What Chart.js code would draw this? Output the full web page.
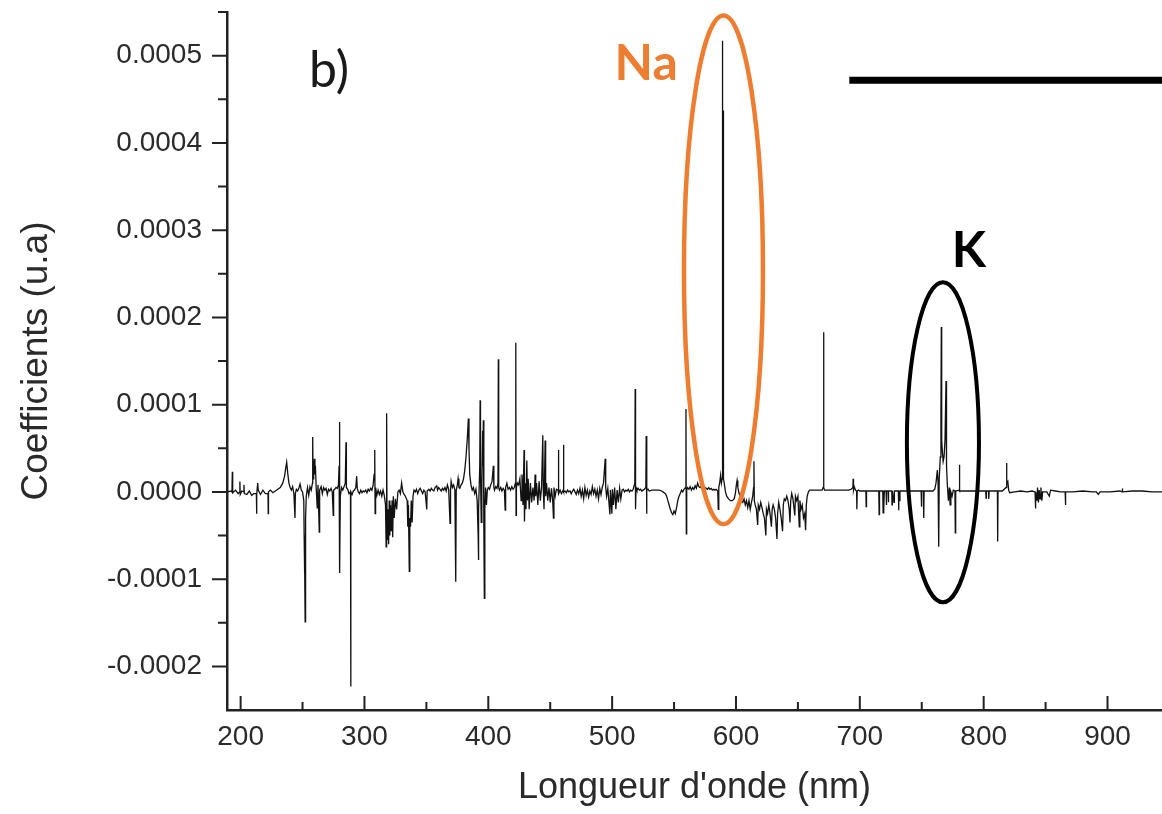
<!DOCTYPE html>
<html>
<head>
<meta charset="utf-8">
<script src="https://cdn.jsdelivr.net/npm/chart.js@4.4.1/dist/chart.umd.min.js"></script>
<style>
  html, body { margin: 0; padding: 0; background: #ffffff; }
  #wrap { width: 1162px; height: 814px; position: relative; }
</style>
</head>
<body>
<div id="wrap"><canvas id="chart"></canvas></div>
<script>
// ---- Data (wavelength nm, coefficient) ----
const spectrumUV = [
  [189.0,0],[192.5,0.01e-4],[193.0,0],[193.3,0.23e-4],[193.6,-0.01e-4],[196,0.02e-4],[198,-0.02e-4],
  [199.2,0],[199.4,0.12e-4],[199.7,-0.03e-4],[201,0.01e-4],[202.5,0],[202.7,0.08e-4],[203,-0.02e-4],
  [205,-0.03e-4],[207,0.01e-4],[209,-0.04e-4],[210.5,-0.02e-4],[212.7,-0.02e-4],[212.9,-0.25e-4],[213.1,-0.03e-4],
  [213.8,0.1e-4],[214.2,0.02e-4],[216,-0.03e-4],[218,0.02e-4],[220,-0.02e-4],[222.1,-0.02e-4],[222.3,-0.25e-4],[222.5,0],
  [224,0.02e-4],[226,-0.01e-4],[228,0.01e-4],[230,0.03e-4],[232,0.05e-4],[234,0.1e-4],[235.5,0.18e-4],[236.5,0.28e-4],
  [237.2,0.34e-4],[238,0.22e-4],[239,0.1e-4],[240,0.05e-4],[241,0.02e-4],[242,0.06e-4],[243,-0.02e-4],[243.9,-0.3e-4],
  [244.2,-0.02e-4],[245,0.03e-4],[246,0.01e-4],[247,0.04e-4],[248,0.09e-4],[249,0.02e-4],[250,0],
  [251.0,-0.1e-4],[251.3,-0.5e-4],[251.5,-0.93e-4],[251.7,-0.6e-4],[251.9,-0.85e-4],[252.1,-1.49e-4],[252.3,-0.7e-4],
  [252.6,-0.3e-4],[253,-0.05e-4],[254,0.05e-4],[255,-0.04e-4],[256,0.06e-4],[257,0.02e-4],
  [258.0,0.1e-4],[258.2,0.63e-4],[258.5,0.15e-4],[259,0.25e-4],[259.6,0.38e-4],[260,0.2e-4],[260.4,0.3e-4],[261,0.05e-4],
  [261.9,-0.19e-4],[262.5,0.08e-4],[263.5,-0.46e-4],[263.8,0.02e-4],[265,0.06e-4],[266,-0.02e-4],[267,0.05e-4],
  [268,0.02e-4],[269,0.04e-4],[270,-0.03e-4],[271,0.03e-4],[272,0.01e-4],[273,0.04e-4],[274,0],[274.8,-0.27e-4],
  [275.1,0.02e-4],[276,0.03e-4],[277,0.05e-4],[278,0.04e-4],[279,0.08e-4],[279.5,0.3e-4],[279.7,0.8e-4],[279.9,0.1e-4],
  [280.2,-0.93e-4],[280.5,-0.05e-4],[281.5,0.05e-4],[282.5,0.02e-4],[283.5,0.06e-4],[284.5,0.1e-4],[285.1,0.57e-4],
  [285.4,0.05e-4],[286.5,0.03e-4],[287.5,-0.02e-4],[288.7,0],[288.9,-2.23e-4],[289.1,0],[290,-0.03e-4],[291,0.01e-4],
  [292,0.02e-4],[293,0.05e-4],[293.7,0.18e-4],[294.2,0.04e-4],[295,0],[296,-0.02e-4],[297,0.02e-4],[298,-0.01e-4],
  [299,0.01e-4],[300,0]
];
const spectrumNearUV = [
  [301,0.02e-4],[302,-0.01e-4],[303,0.03e-4],[304,0.01e-4],[305,0.04e-4],[306,0.02e-4],[307,0.08e-4],[307.8,0.2e-4],
  [308.3,0.48e-4],[308.6,-0.25e-4],[309,0.05e-4],[310,-0.04e-4],[311,0.02e-4],[312,-0.03e-4],[313,0.01e-4],[314,-0.05e-4],
  [315,0.02e-4],[316,-0.04e-4],[317,-0.15e-4],[317.5,-0.63e-4],[317.8,-0.2e-4],[318.0,0.9e-4],[318.2,-0.4e-4],
  [318.6,-0.55e-4],[319,-0.2e-4],[319.5,-0.6e-4],[320,-0.1e-4],[320.5,-0.5e-4],[321,-0.15e-4],[321.7,-0.45e-4],
  [322.3,-0.1e-4],[322.8,-0.52e-4],[323.3,-0.05e-4],[324,-0.3e-4],[325,-0.08e-4],[326,-0.2e-4],[327,0],[328,0.02e-4],
  [329,-0.02e-4],[330,0.1e-4],[331,0],[332,-0.03e-4],[333,-0.05e-4],[334.5,-0.1e-4],[335,-0.4e-4],[335.5,-0.15e-4],
  [336.2,-0.91e-4],[336.6,-0.3e-4],[337.2,-0.4e-4],[337.8,-0.1e-4],[338.5,-0.35e-4],[339.2,-0.05e-4],[340,0.02e-4],
  [341,0],[342,0.03e-4],[343,-0.02e-4],[344,0.02e-4],[345,0.04e-4],[346,0.01e-4],[347,-0.02e-4],[348,0.02e-4],[349,0],
  [350.3,-0.2e-4],[350.6,0.01e-4],[352,0.03e-4],[353,0.01e-4],[354,0.04e-4],[355,0.02e-4],[356,0.01e-4],[357,0.05e-4],
  [358.4,0.07e-4],[359,0.02e-4],[360,0.05e-4],[361,0.03e-4],[362,0.01e-4],[363,0.04e-4],[364,0.02e-4],[365,0.05e-4],
  [366,0.01e-4],[367,0.08e-4],[368,0.03e-4],[369.1,-0.36e-4],[369.5,0.02e-4],[370,0.12e-4],[371,0.05e-4],[372,0.08e-4],
  [373,0.02e-4],[373.7,-1.03e-4],[374.1,0.02e-4],[375,0.08e-4],[375.6,0.15e-4],[376.3,0.05e-4],[377,0.04e-4],
  [378,0.08e-4],[379,0.1e-4],[380,0.15e-4],[381,0.25e-4],[382,0.4e-4],[383,0.6e-4],[383.9,0.84e-4],[384.4,0.5e-4],
  [385,0.2e-4],[386,0.08e-4],[387,0.02e-4],[388,0.05e-4],[389,-0.02e-4],[390,0.03e-4],[391,-0.1e-4],[391.8,-0.5e-4],
  [392,-0.78e-4],[392.3,-0.2e-4],[393.1,0.3e-4],[393.4,1.05e-4],[393.7,0.2e-4],[394.3,-0.35e-4],[394.8,0.1e-4],
  [395.4,0.7e-4],[395.7,0.3e-4],[396,0.82e-4],[396.4,-0.4e-4],[396.8,-1.22e-4],[397.2,-0.2e-4],[397.8,0.05e-4],
  [398.5,-0.15e-4],[399.2,0.02e-4],[400,0.05e-4]
];
const spectrumBlue = [
  [401,0.03e-4],[402,0.08e-4],[403,0.12e-4],[404.1,0.3e-4],[404.5,0.05e-4],[405,0.02e-4],[406,0.06e-4],[407,0.04e-4],
  [407.8,0.1e-4],[408.1,1.52e-4],[408.4,0.05e-4],[409,0.02e-4],[410,0.05e-4],[411,0.01e-4],[412,0.04e-4],[413,0.02e-4],
  [413.6,-0.21e-4],[414,0.05e-4],[415,0.1e-4],[416,0.03e-4],[417,0.05e-4],[418,0.02e-4],[419,0.06e-4],[420,0.03e-4],
  [421,0.05e-4],[421.9,0.1e-4],[422.2,1.71e-4],[422.4,-0.27e-4],[422.7,0.05e-4],[423.5,0.1e-4],[424.5,0.08e-4],
  [425.5,0.15e-4],[426.5,-0.1e-4],[427.2,0.2e-4],[428,-0.15e-4],[428.9,0.48e-4],[429.2,-0.34e-4],[429.8,0.1e-4],
  [430.4,-0.2e-4],[431.1,0.36e-4],[431.6,-0.1e-4],[432.2,0.15e-4],[433,-0.2e-4],[434,0.1e-4],[435,-0.12e-4],[436,0.05e-4],
  [437,-0.1e-4],[437.8,0.2e-4],[438.3,-0.05e-4],[439,0.1e-4],[440,-0.15e-4],[441,0.12e-4],[442,-0.1e-4],[443,0.05e-4],
  [444,0.65e-4],[444.4,0.02e-4],[445,-0.2e-4],[445.9,0.59e-4],[446.3,-0.05e-4],[447,0.1e-4],[448,-0.1e-4],[449,0.05e-4],
  [450,-0.12e-4],[451,0.04e-4],[452,-0.1e-4],[452.6,-0.3e-4],[453,0.05e-4],[454,-0.05e-4],[455,0.03e-4],[456.3,0.02e-4],
  [456.6,0.48e-4],[456.9,-0.02e-4],[458,0.02e-4],[459,-0.02e-4],[460.4,0.02e-4],[460.7,0.54e-4],[461,0],[462,0.01e-4],
  [463,-0.01e-4],[464,0.02e-4],[465,0],[466,0.01e-4],[467,-0.02e-4],[468,0.01e-4],[469,0.03e-4],[470,0],[471,-0.03e-4],
  [472,0.02e-4],[473,-0.02e-4],[474,0.04e-4],[475,-0.05e-4],[476,0.02e-4],[477,-0.08e-4],[478,0.05e-4],[479,-0.04e-4],
  [480,0.02e-4],[481,-0.06e-4],[482,0.01e-4],[483,-0.03e-4],[484,0.06e-4],[485,-0.02e-4],[486,0.03e-4],[487,-0.05e-4],
  [488,0.02e-4],[489,-0.08e-4],[490,0.04e-4],[491,-0.03e-4],[492,0.05e-4],[493,0.1e-4],[494.4,0.38e-4],[494.8,0.05e-4],
  [495.5,-0.05e-4],[496.5,0.04e-4],[497.3,-0.1e-4],[498.2,-0.26e-4],[498.6,0.02e-4],[499.8,-0.25e-4],[500.2,0.03e-4]
];
const spectrumRed = [
  [501,-0.15e-4],[502,0.05e-4],[503,-0.2e-4],[504,0.02e-4],[505,-0.12e-4],[506,0.04e-4],[507,-0.08e-4],[508,0.02e-4],
  [509,0.03e-4],[510,0],[511,0.02e-4],[512,0.01e-4],[513,0.03e-4],[514,0],[515,0.02e-4],[516,0.01e-4],[517,0.03e-4],
  [518.3,0.1e-4],[518.6,1.18e-4],[518.9,-0.2e-4],[519.3,0.05e-4],[520,0.02e-4],[521,0.04e-4],[522,0.02e-4],[523,0.03e-4],
  [524,0.01e-4],[525,0.02e-4],[526,0.03e-4],[527.2,0.05e-4],[527.5,0.64e-4],[527.8,-0.25e-4],[528.1,0.02e-4],
  [529,0.03e-4],[530,0.01e-4],[532,0.02e-4],[534,0.02e-4],[536,0.02e-4],[538,0.02e-4],[540,0.01e-4],[541,0],
  [542,-0.01e-4],[543,-0.02e-4],[544,-0.05e-4],[545,-0.1e-4],[546,-0.15e-4],[547,-0.2e-4],[548,-0.24e-4],[549,-0.26e-4],
  [550,-0.22e-4],[551,-0.25e-4],[552,-0.18e-4],[553,-0.1e-4],[554,-0.05e-4],[555,-0.02e-4],[556,0.02e-4],[557,0],
  [558,0.03e-4],[559.3,0.05e-4],[559.6,0.95e-4],[559.9,-0.48e-4],[560.2,0.02e-4],[561,0.05e-4],[562,0.03e-4],
  [563,0.06e-4],[564,0.02e-4],[565,0.05e-4],[566,0.03e-4],[567,0.07e-4],[568,0.04e-4],[569,0.1e-4],[570,0.06e-4],
  [571,0.05e-4],[572,0.07e-4],[573,0.04e-4],[574,0.06e-4],[575,0.05e-4],[576,0.04e-4],[577,0.03e-4],[578,0.05e-4],
  [579,0.03e-4],[580,0.04e-4],[581,0.02e-4],[582,0.03e-4],[583,0.02e-4],[584,0.03e-4],[585.3,0.01e-4],[585.7,-0.2e-4],
  [586.1,0.05e-4],[587,0.12e-4],[587.6,0.19e-4],[588.2,0.1e-4],[588.8,0.15e-4],[589.0,5.17e-4],[589.3,0.3e-4],
  [589.6,4.37e-4],[589.9,0.15e-4],[590.5,0.1e-4],[591.5,0],[592.5,-0.05e-4],[594,-0.08e-4],[595.5,-0.1e-4],
  [597,-0.1e-4],[598.5,-0.08e-4],[599.5,-0.02e-4],[600.3,0.08e-4],[600.9,0.13e-4],[601.5,0.05e-4],[602.5,-0.02e-4],
  [603.5,-0.05e-4],[604.5,-0.1e-4],[605.5,-0.12e-4],[606.5,-0.08e-4],[607.5,-0.15e-4],[608.5,-0.1e-4],[609.5,-0.18e-4],
  [610.5,-0.1e-4],[611.5,-0.2e-4],[612.5,-0.12e-4],[613.5,-0.05e-4],[614.2,0.05e-4],[614.5,0.35e-4],[614.8,-0.1e-4],
  [615.5,-0.15e-4],[616.5,-0.2e-4],[617.5,-0.38e-4],[618,-0.15e-4],[619,-0.2e-4],[620,-0.12e-4],[621,-0.18e-4],
  [622,-0.25e-4],[623,-0.3e-4],[624.1,-0.5e-4],[624.6,-0.2e-4],[625.5,-0.25e-4],[626.5,-0.15e-4],[627.5,-0.25e-4],
  [628.6,-0.4e-4],[629.2,-0.2e-4],[630,-0.15e-4],[631,-0.2e-4],[632,-0.3e-4],[633.1,-0.54e-4],[633.6,-0.25e-4],
  [634.5,-0.12e-4],[635.5,-0.2e-4],[636.5,-0.3e-4],[637.6,-0.45e-4],[638.2,-0.15e-4],[639,-0.08e-4],[640,-0.1e-4],
  [641,-0.05e-4],[642,-0.1e-4],[643,-0.2e-4],[643.6,-0.35e-4],[644.2,-0.1e-4],[645,-0.02e-4],[646,-0.08e-4],
  [647.5,-0.27e-4],[648,-0.05e-4],[649,-0.1e-4],[650,-0.05e-4],[651.1,-0.4e-4],[651.6,-0.1e-4],[652.5,-0.2e-4],
  [653.5,-0.15e-4],[654.5,-0.3e-4],[655.5,-0.25e-4],[656.2,-0.44e-4],[656.8,-0.15e-4],[657.5,-0.05e-4],[658.5,0],
  [659.5,0.02e-4],[661.5,0.02e-4],[663.5,0.02e-4],[665.5,0.02e-4],[667.5,0.02e-4],[669.5,0.02e-4],[670.4,0.05e-4],
  [670.7,1.83e-4],[671,0.05e-4],[671.5,0.02e-4],[675,0.02e-4],[679,0.02e-4],[683,0.02e-4],[687,0.02e-4],[691,0.02e-4],
  [693,0.03e-4],[694.4,0.05e-4],[694.6,0.15e-4],[694.9,0.02e-4],[695.5,0.06e-4],[696.5,0.02e-4],[697.4,0.01e-4],
  [697.6,-0.2e-4],[697.9,0.01e-4],[699,0.02e-4]
];
const spectrumNIR = [
  [700,0.01e-4],[702,0.01e-4],[704.9,0.01e-4],[705.1,-0.17e-4],[705.4,0.01e-4],[709,0.01e-4],[713,0.01e-4],
  [715.3,0.01e-4],[715.6,-0.26e-4],[715.9,0.01e-4],[718.5,0.01e-4],[718.8,-0.24e-4],[719.1,0.01e-4],[719.5,-0.2e-4],
  [719.8,0.01e-4],[721.2,0.01e-4],[721.4,-0.15e-4],[721.7,0.01e-4],[722.8,0.01e-4],[723,-0.12e-4],[723.3,0.01e-4],
  [725.8,0.01e-4],[726,-0.15e-4],[726.3,0.01e-4],[727.6,-0.12e-4],[727.9,0.01e-4],[731.1,0.01e-4],[731.3,-0.21e-4],
  [731.6,0.01e-4],[732.1,-0.1e-4],[732.4,0.01e-4],[736,0.01e-4],[740,0.01e-4],[744,0.01e-4],[749.5,0.01e-4],
  [749.7,-0.17e-4],[750,0.01e-4],[751.3,0.01e-4],[751.6,-0.3e-4],[751.9,0.01e-4],[755,0.01e-4],[759,0.01e-4],
  [760.5,0.03e-4],[761.5,0.1e-4],[762.6,0.25e-4],[763.2,0.1e-4],[763.7,-0.63e-4],[764.1,0.15e-4],[765,0.4e-4],
  [765.5,0.9e-4],[765.8,1.89e-4],[766.1,0.6e-4],[766.7,0.45e-4],[767.3,0.35e-4],[768,0.4e-4],[768.8,0.6e-4],
  [769.6,1.27e-4],[770,0.3e-4],[770.6,0.1e-4],[771.5,-0.1e-4],[772.3,0.05e-4],[772.9,-0.15e-4],[773.5,0],
  [774.5,-0.05e-4],[775.5,0.02e-4],[776.8,0.01e-4],[777.1,-0.47e-4],[777.4,0.01e-4],[780.1,0.02e-4],[780.4,0.31e-4],
  [780.7,0.01e-4],[786,0.01e-4],[792,0.01e-4],[798,0.01e-4],[801.7,0.01e-4],[801.9,-0.07e-4],[802.2,0.01e-4],
  [803.9,0.01e-4],[804.1,-0.08e-4],[804.4,0.01e-4],[808,0.01e-4],[811.1,0.01e-4],[811.3,-0.57e-4],[811.6,0.01e-4],
  [815,0.01e-4],[818.1,0.05e-4],[818.4,0.33e-4],[818.8,0.1e-4],[819.5,0.12e-4],[820.2,0.02e-4],[821,-0.01e-4],
  [825,0],[830,0.01e-4],[835,0],[839,0.01e-4],[841.5,0],[841.8,-0.19e-4],[842.1,0],[843,-0.1e-4],[843.5,0.05e-4],
  [844.2,-0.12e-4],[844.8,0.02e-4],[845.5,-0.08e-4],[846.2,0.05e-4],[847,-0.1e-4],[847.6,0],[851,0],[853,-0.05e-4],
  [854,0.02e-4],[858,0.01e-4],[862,0],[865.8,0],[866,-0.15e-4],[866.3,0],[872,0],[880,0.01e-4],[888,0],
  [891,0],[892.5,-0.03e-4],[894,0],[902,0],[910,0.01e-4],[911.8,0],[912,0.04e-4],[912.2,0],[920,0.01e-4],
  [928,0.01e-4],[936,0],[944,0]
];

// ---- Axis ticks ----
const xTickValues = [200, 300, 400, 500, 600, 700, 800, 900];
const xMinorTicks = [250, 350, 450, 550, 650, 750, 850];
const yTickValues = [-0.0002, -0.0001, 0, 0.0001, 0.0002, 0.0003, 0.0004, 0.0005];
const yMinorTicks = [-0.00015, -0.00005, 0.00005, 0.00015, 0.00025, 0.00035, 0.00045, 0.00055];

// ---- Annotations (in data coordinates) ----
const naEllipse = { x: 589.9, y: 2.545e-4, rx: 31.9, ry: 2.914e-4 };
const kEllipse  = { x: 767.1, y: 0.568e-4, rx: 29.1, ry: 1.834e-4 };
const labelNa = { text: 'Na', x: 527.5, y: 4.9e-4 };
const labelK  = { text: 'K', x: 788.0, y: 2.76e-4 };
const labelPanel = { text: 'b)', x: 271.4, y: 4.82e-4 };
const topBar = { xStart: 691.5, y: 4.717e-4 };

const points = [].concat(spectrumUV, spectrumNearUV, spectrumBlue, spectrumRed, spectrumNIR)
  .map(([x, y]) => ({ x, y }));

const axisTicks = {
  id: 'axisTicks',
  afterDraw(chart) {
    const { ctx, scales: { x, y }, chartArea } = chart;
    const ax = chartArea.left, ay = chartArea.bottom;
    ctx.save();
    ctx.strokeStyle = '#222';
    ctx.lineWidth = 2;
    ctx.beginPath();
    yTickValues.forEach(v => { const p = y.getPixelForValue(v); ctx.moveTo(ax - 15, p); ctx.lineTo(ax, p); });
    yMinorTicks.forEach(v => { const p = y.getPixelForValue(v); ctx.moveTo(ax - 9, p); ctx.lineTo(ax, p); });
    xTickValues.forEach(v => { const p = x.getPixelForValue(v); ctx.moveTo(p, ay); ctx.lineTo(p, ay - 14); });
    xMinorTicks.forEach(v => { const p = x.getPixelForValue(v); ctx.moveTo(p, ay); ctx.lineTo(p, ay - 8); });
    ctx.stroke();
    ctx.restore();
  }
};

const annotations = {
  id: 'annotations',
  afterDatasetsDraw(chart) {
    const { ctx, scales: { x, y } } = chart;
    ctx.save();
    const ellipse = (e, color, w) => {
      const cx = x.getPixelForValue(e.x), cy = y.getPixelForValue(e.y);
      const rx = Math.abs(x.getPixelForValue(e.x + e.rx) - cx);
      const ry = Math.abs(y.getPixelForValue(e.y - e.ry) - cy);
      ctx.beginPath();
      ctx.ellipse(cx, cy, rx, ry, 0, 0, Math.PI * 2);
      ctx.strokeStyle = color;
      ctx.lineWidth = w;
      ctx.stroke();
    };
    ellipse(naEllipse, '#ED7D31', 4.5);
    ellipse(kEllipse, '#000000', 4);

    const text = (t, font, color) => {
      ctx.font = font;
      ctx.fillStyle = color;
      ctx.textAlign = 'center';
      ctx.textBaseline = 'middle';
      ctx.fillText(t.text, x.getPixelForValue(t.x), y.getPixelForValue(t.y));
    };
    text(labelNa, 'bold 50px Lato', '#ED7D31');
    text(labelK, 'bold 50px Lato', '#000000');
    text(labelPanel, '50px Lato', '#1a1a1a');

    ctx.beginPath();
    ctx.strokeStyle = '#000';
    ctx.lineWidth = 7;
    const by = y.getPixelForValue(topBar.y);
    ctx.moveTo(x.getPixelForValue(topBar.xStart), by);
    ctx.lineTo(chart.width, by);
    ctx.stroke();
    ctx.restore();
  }
};

new Chart(document.getElementById('chart'), {
  type: 'line',
  data: {
    datasets: [{
      data: points,
      borderColor: '#111111',
      borderWidth: 1.3,
      pointRadius: 0,
      tension: 0,
      fill: false
    }]
  },
  plugins: [annotations, axisTicks],
  options: {
    responsive: true,
    maintainAspectRatio: false,
    animation: false,
    layout: { padding: { top: 12, right: 0, left: 0, bottom: 0 } },
    plugins: { legend: { display: false }, tooltip: { enabled: false } },
    scales: {
      x: {
        type: 'linear',
        min: 189,
        max: 944,
        afterBuildTicks: s => { s.ticks = xTickValues.map(v => ({ value: v })); },
        afterFit: s => { s.height = 104; s.paddingLeft = 0; s.paddingRight = 0; },
        grid: { display: false, drawTicks: false },
        border: { display: true, color: '#222', width: 2.5 },
        ticks: {
          autoSkip: false, maxRotation: 0, padding: 10,
          color: '#2a2a2a',
          font: { family: 'Liberation Sans', size: 28 },
          callback: v => String(v)
        },
        title: {
          display: true,
          text: "Longueur d'onde (nm)",
          color: '#2a2a2a',
          font: { family: 'Liberation Sans', size: 36 },
          padding: { top: 0, bottom: 4 }
        }
      },
      y: {
        type: 'linear',
        min: -0.00025,
        max: 0.00055,
        afterBuildTicks: s => { s.ticks = yTickValues.map(v => ({ value: v })); },
        afterFit: s => { s.width = 227; s.paddingTop = 0; s.paddingBottom = 0; },
        grid: { display: false, drawTicks: false },
        border: { display: true, color: '#222', width: 2.5 },
        ticks: {
          autoSkip: false, padding: 25,
          color: '#2a2a2a',
          font: { family: 'Liberation Sans', size: 28 },
          callback: v => Number(v).toFixed(4)
        },
        title: {
          display: true,
          text: 'Coefficients (u.a)',
          color: '#2a2a2a',
          font: { family: 'Liberation Sans', size: 37 },
          padding: { top: 15, bottom: 0 }
        }
      }
    }
  }
});
</script>
</body>
</html>
